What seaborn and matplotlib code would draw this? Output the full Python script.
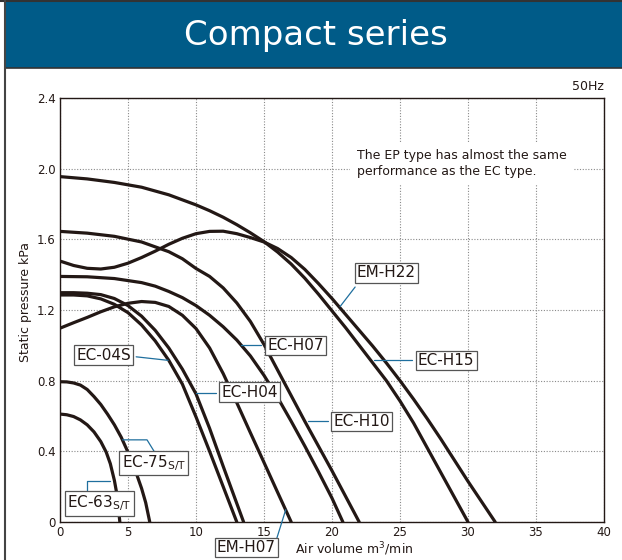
import matplotlib
matplotlib.use("Agg")
import matplotlib.pyplot as plt
from matplotlib.patches import Rectangle
from matplotlib.lines import Line2D
import pandas as pd
import seaborn as sns


# fan curves: air volume (m3/min) -> static pressure (kPa)
EM_H22_X = [0, 1, 2, 3, 4, 5, 6, 7, 8, 9, 10, 11, 12, 13, 14, 15, 16, 17, 18, 19, 20,
            21, 22, 23, 24, 25, 26, 27, 28, 29, 30, 31, 32]
EM_H22_Y = [1.477, 1.452, 1.436, 1.432, 1.442, 1.465, 1.497, 1.533, 1.572, 1.606, 1.632,
            1.645, 1.646, 1.632, 1.61, 1.585, 1.548, 1.497, 1.43, 1.35, 1.265, 1.175, 1.085,
            0.995, 0.9, 0.8, 0.695, 0.585, 0.47, 0.35, 0.23, 0.115, 0.0]

EC_H15_X = [0, 2, 4, 6, 8, 10, 11, 12, 13, 14, 15, 16, 17, 18, 19, 20, 21, 22, 23, 24,
            25, 26, 27, 28, 29, 30]
EC_H15_Y = [1.955, 1.942, 1.922, 1.895, 1.852, 1.795, 1.762, 1.725, 1.683, 1.637, 1.587,
            1.528, 1.46, 1.38, 1.29, 1.195, 1.1, 1.0, 0.9, 0.8, 0.685, 0.56, 0.42,
            0.28, 0.14, 0.0]

EC_H10_X = [0, 2, 4, 6, 8, 9, 10, 11, 12, 13, 14, 15, 16, 17, 18, 19, 20, 21, 22]
EC_H10_Y = [1.645, 1.635, 1.617, 1.585, 1.53, 1.49, 1.435, 1.39, 1.325, 1.24, 1.135, 1.005,
            0.86, 0.715, 0.57, 0.43, 0.29, 0.145, 0.0]

EC_H07_X = [0, 2, 4, 6, 7, 8, 9, 10, 11, 12, 13, 14, 15, 16, 17, 18, 19, 20, 20.8]
EC_H07_Y = [1.39, 1.388, 1.378, 1.355, 1.335, 1.305, 1.27, 1.225, 1.17, 1.105, 1.03, 0.94,
            0.83, 0.705, 0.57, 0.43, 0.285, 0.135, 0.0]

EM_H07_X = [0, 1, 2, 3, 4, 5, 6, 7, 8, 9, 10, 11, 12, 13, 14, 15, 16, 17]
EM_H07_Y = [1.097, 1.128, 1.158, 1.19, 1.218, 1.238, 1.248, 1.243, 1.22, 1.17, 1.095, 0.985,
            0.84, 0.675, 0.505, 0.337, 0.168, 0.0]

EC_H04_X = [0, 1, 2, 3, 4, 5, 6, 7, 8, 9, 10, 11, 12, 13, 13.5]
EC_H04_Y = [1.298, 1.298, 1.295, 1.287, 1.265, 1.225, 1.165, 1.085, 0.985, 0.865, 0.725,
            0.53, 0.315, 0.105, 0.0]

EC_04S_X = [0, 1, 2, 3, 4, 5, 6, 7, 8, 9, 10, 11, 12, 13]
EC_04S_Y = [1.285, 1.285, 1.28, 1.263, 1.232, 1.185, 1.115, 1.025, 0.915, 0.78, 0.595,
            0.40, 0.20, 0.0]

EC_75_X = [0, 0.5, 1, 1.5, 2, 2.5, 3, 3.5, 4, 4.5, 5, 5.5, 6, 6.3, 6.6]
EC_75_Y = [0.794, 0.793, 0.787, 0.775, 0.75, 0.71, 0.665, 0.61, 0.55, 0.48, 0.395, 0.3,
           0.19, 0.11, 0.0]

EC_63_X = [0, 0.5, 1, 1.5, 2, 2.5, 3, 3.4, 3.7, 4.0, 4.2, 4.4]
EC_63_Y = [0.611, 0.607, 0.597, 0.578, 0.55, 0.51, 0.455, 0.395, 0.33, 0.235, 0.15, 0.0]

X_TICKS = [0, 5, 10, 15, 20, 25, 30, 35, 40]
Y_TICKS = [0, 0.4, 0.8, 1.2, 1.6, 2.0, 2.4]
Y_TICK_LABELS = ["0", "0.4", "0.8", "1.2", "1.6", "2.0", "2.4"]

INK = "#231815"
BLUE = "#005B88"
LEADER = "#1f6f9e"


def build_frame() -> pd.DataFrame:
    curves = {
        "EM-H22": (EM_H22_X, EM_H22_Y),
        "EC-H15": (EC_H15_X, EC_H15_Y),
        "EC-H10": (EC_H10_X, EC_H10_Y),
        "EC-H07": (EC_H07_X, EC_H07_Y),
        "EM-H07": (EM_H07_X, EM_H07_Y),
        "EC-H04": (EC_H04_X, EC_H04_Y),
        "EC-04S": (EC_04S_X, EC_04S_Y),
        "EC-75S/T": (EC_75_X, EC_75_Y),
        "EC-63S/T": (EC_63_X, EC_63_Y),
    }
    rows = []
    for name, (xs, ys) in curves.items():
        for x, y in zip(xs, ys):
            rows.append({"model": name, "air": x, "pressure": y})
    return pd.DataFrame(rows)


def add_label(ax, text, x, y, leader):
    ax.text(
        x, y, text, ha="center", va="center", fontsize=11, color=INK,
        clip_on=False, zorder=5,
        bbox=dict(boxstyle="square,pad=0.15", facecolor="white", edgecolor="#555555", linewidth=0.9),
    )
    lx, ly = zip(*leader)
    ax.plot(lx, ly, color=LEADER, lw=0.9, clip_on=False, zorder=4)


def main() -> None:
    sns.set_theme(style="white")
    plt.rcParams["font.family"] = ["DejaVu Sans"]

    df = build_frame()

    fig = plt.figure(figsize=(6.22, 5.6), dpi=100)

    # header band and frame
    fig.patches.append(Rectangle((5 / 622, 1 - 68 / 560), 1, 66 / 560,
                                 transform=fig.transFigure, facecolor=BLUE, edgecolor="none"))
    fig.add_artist(Line2D([5 / 622, 1], [1 - 68 / 560] * 2, color="#333333", lw=1.2))
    fig.add_artist(Line2D([0, 1], [1 - 1 / 560] * 2, color="#333333", lw=1.5))
    fig.add_artist(Line2D([4.5 / 622] * 2, [0, 1], color="#444444", lw=1.5))
    fig.text(316 / 622, 1 - 35 / 560, "Compact series", color="white", fontsize=24.5,
             ha="center", va="center")

    ax = fig.add_axes([60 / 622, 38 / 560, 544 / 622, 424 / 560])
    sns.lineplot(data=df, x="air", y="pressure", units="model", estimator=None,
                 sort=False, color=INK, lw=2.3, ax=ax, zorder=3)

    ax.set_xlim(0, 40)
    ax.set_ylim(0, 2.4)
    ax.set_xticks(X_TICKS)
    ax.set_xticklabels([str(t) for t in X_TICKS])
    ax.set_yticks(Y_TICKS)
    ax.set_yticklabels(Y_TICK_LABELS)
    ax.tick_params(length=0, labelsize=8.5, colors=INK, pad=3)
    ax.grid(True, linestyle=(0, (1, 1.5)), color="#8a8a8a", lw=0.8)
    for spine in ax.spines.values():
        spine.set_color(INK)
        spine.set_linewidth(1.0)
    ax.set_xlabel("")
    ax.set_ylabel("")

    ax.text(-0.064, 0.52, "Static pressure kPa", transform=ax.transAxes, rotation=90,
            ha="center", va="center", fontsize=9, color=INK)
    fig.text(295 / 622, 1 - 549 / 560, "Air volume m$^3$/min", ha="left", va="center",
             fontsize=9, color=INK)
    ax.text(40, 2.43, "50Hz", ha="right", va="bottom", fontsize=9, color=INK)
    ax.text(21.85, 2.03, "The EP type has almost the same\nperformance as the EC type.",
            ha="left", va="center", fontsize=9, color=INK, linespacing=1.35, zorder=4,
            bbox=dict(boxstyle="square,pad=0.55", facecolor="white", edgecolor="none"))

    add_label(ax, "EM-H22", 24.0, 1.41, [(21.7, 1.33), (20.6, 1.22)])
    add_label(ax, "EC-H15", 28.4, 0.915, [(25.9, 0.915), (23.1, 0.915)])
    add_label(ax, "EC-H07", 17.3, 1.0, [(14.8, 1.0), (13.3, 1.0)])
    add_label(ax, "EC-H10", 22.2, 0.57, [(19.7, 0.57), (18.2, 0.57)])
    add_label(ax, "EC-04S", 3.2, 0.945, [(5.6, 0.935), (7.95, 0.915)])
    add_label(ax, "EC-H04", 13.95, 0.735, [(11.5, 0.73), (10.0, 0.73)])
    add_label(ax, "EC-75$_{\\mathregular{S/T}}$", 6.9, 0.335,
              [(7.0, 0.39), (6.4, 0.465), (4.6, 0.465)])
    add_label(ax, "EC-63$_{\\mathregular{S/T}}$", 2.9, 0.105,
              [(1.98, 0.16), (1.98, 0.232), (3.7, 0.232)])
    add_label(ax, "EM-H07", 13.7, -0.145, [(15.95, -0.09), (16.6, 0.07)])

    fig.savefig("out.png", dpi=100)


if __name__ == "__main__":
    main()
